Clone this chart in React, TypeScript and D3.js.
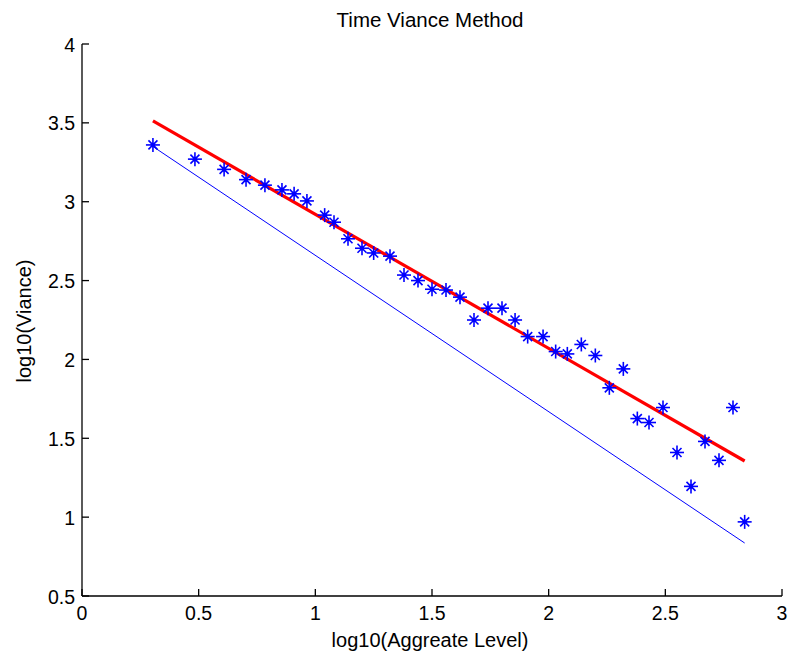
import React from "react";
import * as d3 from "d3";

const W = 791;
const H = 656;

// Data
const logLevel = [0.304, 0.484, 0.609, 0.703, 0.784, 0.857, 0.909, 0.964, 1.04, 1.08, 1.14, 1.2, 1.25, 1.32, 1.38, 1.44, 1.5, 1.56, 1.62, 1.68, 1.74, 1.8, 1.856, 1.91, 1.976, 2.03, 2.08, 2.14, 2.2, 2.26, 2.32, 2.38, 2.43, 2.49, 2.55, 2.61, 2.67, 2.73, 2.79, 2.84];
const logVar = [3.36, 3.27, 3.205, 3.14, 3.105, 3.075, 3.05, 3.005, 2.915, 2.87, 2.765, 2.705, 2.675, 2.655, 2.535, 2.5, 2.445, 2.44, 2.395, 2.25, 2.325, 2.325, 2.25, 2.145, 2.145, 2.05, 2.035, 2.095, 2.025, 1.82, 1.94, 1.625, 1.6, 1.695, 1.41, 1.195, 1.48, 1.36, 1.695, 0.97];
const fitX = [0.304, 2.84];
const fitY = [3.512, 1.356];
const refX = [0.304, 2.84];
const refY = [3.35, 0.836];
const xTicks = [0, 0.5, 1, 1.5, 2, 2.5, 3];
const yTicks = [0.5, 1, 1.5, 2, 2.5, 3, 3.5, 4];

const FONT = "'Liberation Sans', Arial, sans-serif";

export default function App() {
  const x = d3.scaleLinear().domain([0, 3]).range([82, 782]);
  const y = d3.scaleLinear().domain([0.5, 4]).range([596, 44]);
  const line = d3
    .line<[number, number]>()
    .x((d) => x(d[0]))
    .y((d) => y(d[1]));
  const fitPts = fitX.map((v, i) => [v, fitY[i]] as [number, number]);
  const refPts = refX.map((v, i) => [v, refY[i]] as [number, number]);
  const fmt = (v: number) => String(v);

  return (
    <div style={{ position: "fixed", left: 0, top: 0 }}>
      <svg width={W} height={H} style={{ display: "block", background: "#fff" }}>
        <rect x={0} y={0} width={W} height={H} fill="#fff" />
        {/* reference line */}
        <path d={line(refPts) || ""} fill="none" stroke="#0000ff" strokeWidth={1} />
        {/* fitted line */}
        <path d={line(fitPts) || ""} fill="none" stroke="#ff0000" strokeWidth={3.2} />
        {/* star markers */}
        {logLevel.map((lx, i) => {
          const cx = x(lx);
          const cy = y(logVar[i]);
          const a = 7;
          const b = 4.5;
          return (
            <g key={i} stroke="#0000ff" strokeWidth={1.6}>
              <line x1={cx - a} y1={cy} x2={cx + a} y2={cy} />
              <line x1={cx} y1={cy - a} x2={cx} y2={cy + a} />
              <line x1={cx - b} y1={cy - b} x2={cx + b} y2={cy + b} />
              <line x1={cx - b} y1={cy + b} x2={cx + b} y2={cy - b} />
              <circle cx={cx} cy={cy} r={2.3} fill="#0000ff" stroke="none" />
            </g>
          );
        })}
        {/* axes */}
        <g stroke="#000" strokeWidth={1.3} fill="none">
          <line x1={82} y1={44} x2={82} y2={596} />
          <line x1={82} y1={596} x2={782} y2={596} />
          {xTicks.map((t) => (
            <line key={"xt" + t} x1={x(t)} y1={596} x2={x(t)} y2={589} />
          ))}
          {yTicks.map((t) => (
            <line key={"yt" + t} x1={82} y1={y(t)} x2={89} y2={y(t)} />
          ))}
        </g>
        <g fontFamily={FONT} fontSize={19.5} fill="#000">
          {xTicks.map((t) => (
            <text key={"xl" + t} x={x(t)} y={620} textAnchor="middle">
              {fmt(t)}
            </text>
          ))}
          {yTicks.map((t) => (
            <text key={"yl" + t} x={75} y={y(t) + 7.5} textAnchor="end">
              {fmt(t)}
            </text>
          ))}
        </g>
        <g fontFamily={FONT} fontSize={20} fill="#000">
          <text x={430} y={27} textAnchor="middle" fontSize={20.5}>
            Time Viance Method
          </text>
          <text x={430} y={647} textAnchor="middle">
            log10(Aggreate Level)
          </text>
          <text transform="translate(31,321) rotate(-90)" textAnchor="middle">
            log10(Viance)
          </text>
        </g>
      </svg>
    </div>
  );
}
